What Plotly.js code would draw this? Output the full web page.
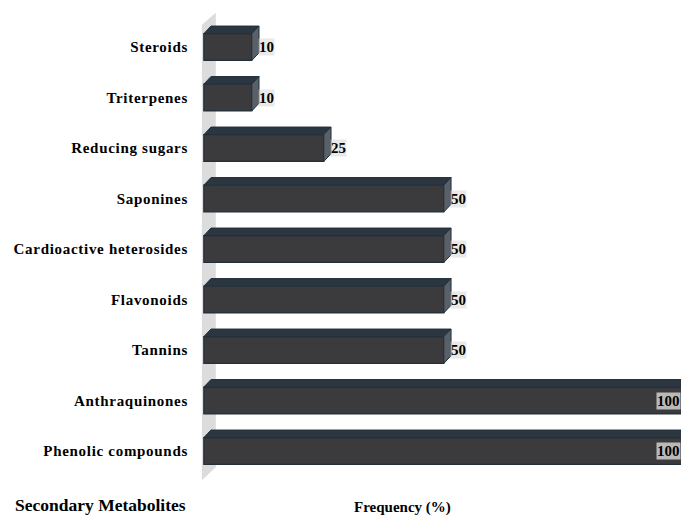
<!DOCTYPE html>
<html>
<head>
<meta charset="utf-8">
<script src="https://cdn.plot.ly/plotly-3.0.1.min.js"></script>
<style>
html,body{margin:0;padding:0;background:#fff;}
#chart{width:681px;height:516px;}
#chart .ytick text{letter-spacing:0.7px;}
</style>
</head>
<body>
<div id="chart"></div>
<script>
// ---- data ----
const categories = ['Steroids', 'Triterpenes', 'Reducing sugars', 'Saponines', 'Cardioactive heterosides', 'Flavonoids', 'Tannins', 'Anthraquinones', 'Phenolic compounds'];
const values = [10, 10, 25, 50, 50, 50, 50, 100, 100];
const valueLabels = ['10', '10', '25', '50', '50', '50', '50', '100', '100'];
const yAxisTitle = 'Secondary Metabolites';
const xAxisTitle = 'Frequency (%)';

// ---- style ----
const idx = categories.map((c, i) => i);
const XMAX = 99.4;
const BAR_W = 0.53;
const DX = 1.5;   // 3D depth in x units
const DY = 0.15;  // 3D depth in y units
const FONT = 'Liberation Serif, Times New Roman, serif';

const shapes = [];
// back wall
shapes.push({
  type: 'path', xref: 'x', yref: 'y', layer: 'below',
  path: `M -0.4,-0.44 L 2.5,-0.68 L 2.5,8.32 L -0.4,8.58 Z`,
  fillcolor: '#dcdcdc', line: {width: 0}
});
idx.forEach(i => {
  const v = values[i];
  const yt = i - BAR_W / 2, yb = i + BAR_W / 2;
  // top face
  shapes.push({
    type: 'path', xref: 'x', yref: 'y', layer: 'above',
    path: `M 0,${yt} L ${v},${yt} L ${v + DX},${yt - DY} L ${DX},${yt - DY} Z`,
    fillcolor: '#2c3641', line: {color: '#22303c', width: 1}
  });
  // right side face
  shapes.push({
    type: 'path', xref: 'x', yref: 'y', layer: 'above',
    path: `M ${v},${yt} L ${v + DX},${yt - DY} L ${v + DX},${yb - DY} L ${v},${yb} Z`,
    fillcolor: '#5a6068', line: {color: '#22303c', width: 1}
  });
});

const annotations = idx.map(i => {
  const v = values[i];
  const fits = v + DX + 5 < XMAX;
  return {
    xref: 'x', yref: 'y', x: fits ? v + DX - 0.3 : XMAX, y: i,
    xanchor: fits ? 'left' : 'right', yanchor: 'middle',
    text: valueLabels[i], showarrow: false,
    bgcolor: fits ? 'rgba(215,215,215,0.55)' : 'rgba(200,200,200,0.9)',
    borderpad: 0,
    font: {family: FONT, size: 15, color: '#000', weight: 'bold'}
  };
});
annotations.push({
  xref: 'paper', yref: 'paper', x: -0.385, y: -0.052, xanchor: 'left', yanchor: 'middle',
  text: yAxisTitle, showarrow: false,
  font: {family: FONT, size: 17.5, color: '#000', weight: 'bold'}
});
annotations.push({
  xref: 'paper', yref: 'paper', x: 0.423, y: -0.056, xanchor: 'center', yanchor: 'middle',
  text: xAxisTitle, showarrow: false,
  font: {family: FONT, size: 15, color: '#000', weight: 'bold'}
});

const trace = {
  type: 'bar', orientation: 'h',
  x: values, y: idx, width: BAR_W,
  marker: {color: '#3b3b3d', line: {color: '#22303c', width: 1.2}},
  hoverinfo: 'skip'
};

const layout = {
  width: 681, height: 516,
  margin: {l: 199, r: 0, t: 10, b: 35},
  paper_bgcolor: '#fff', plot_bgcolor: '#fff',
  showlegend: false,
  xaxis: {range: [-1, XMAX], showgrid: false, zeroline: false, showline: false, showticklabels: false, ticks: ''},
  yaxis: {
    range: [8.594, -0.733], tickvals: idx, ticktext: categories,
    showgrid: false, zeroline: false, showline: false, ticks: '', ticklabelstandoff: 10,
    tickfont: {family: FONT, size: 15, color: '#000', weight: 'bold'}
  },
  shapes: shapes,
  annotations: annotations
};

Plotly.newPlot('chart', [trace], layout, {staticPlot: true, displayModeBar: false});
</script>
</body>
</html>
